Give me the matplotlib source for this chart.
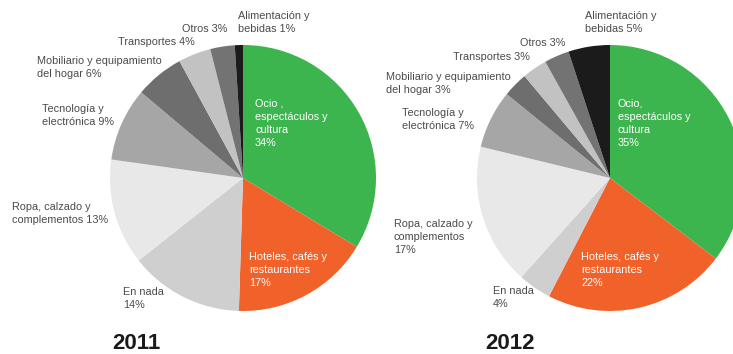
import matplotlib.pyplot as plt

# datos
categorias = ['Ocio, espectáculos y cultura', 'Hoteles, cafés y restaurantes', 'En nada',
              'Ropa, calzado y complementos', 'Tecnología y electrónica',
              'Mobiliario y equipamiento del hogar', 'Transportes', 'Otros',
              'Alimentación y bebidas']
valores_2011 = [34, 17, 14, 13, 9, 6, 4, 3, 1]
valores_2012 = [35, 22, 4, 17, 7, 3, 3, 3, 5]
colores = ['#3db54f', '#f0622a', '#cfcfcf', '#e8e8e8', '#a6a6a6',
           '#6e6e6e', '#c2c2c2', '#737373', '#1b1b1b']

plt.rcParams['font.family'] = ['Liberation Sans', 'DejaVu Sans']

W, H = 733, 354
fig = plt.figure(figsize=(W / 100, H / 100), dpi=100)
ax = fig.add_axes([0, 0, 1, 1])


def pie(vals, cx, cy, r):
    ax.pie(vals, colors=colores, startangle=90, counterclock=False,
           center=(cx, H - cy), radius=r, frame=True,
           wedgeprops=dict(linewidth=0))


def txt(x, y, s, color='#4a4a4a', ha='left', size=7.8, weight='normal', va='top'):
    ax.text(x, H - y, s, color=color, ha=ha, va=va, fontsize=size,
            fontweight=weight, linespacing=1.38)


pie(valores_2011, 243, 178, 133)
pie(valores_2012, 610, 178, 133)
ax.set_xlim(0, W)
ax.set_ylim(0, H)
ax.set_aspect('equal')
ax.axis('off')

# etiquetas 2011
txt(238, 11, 'Alimentación y\nbebidas 1%')
txt(227, 24, 'Otros 3%', ha='right')
txt(118, 37, 'Transportes 4%')
txt(37, 56, 'Mobiliario y equipamiento\ndel hogar 6%')
txt(42, 104, 'Tecnología y\nelectrónica 9%')
txt(255, 99, 'Ocio ,\nespectáculos y\ncultura\n34%', color='white')
txt(12, 202, 'Ropa, calzado y\ncomplementos 13%')
txt(249, 252, 'Hoteles, cafés y\nrestaurantes\n17%', color='white')
txt(123, 287, 'En nada\n14%')
txt(112, 349, '2011', color='#1a1a1a', size=16, weight='bold', va='baseline')

# etiquetas 2012
txt(585, 11, 'Alimentación y\nbebidas 5%')
txt(565, 38, 'Otros 3%', ha='right')
txt(453, 52, 'Transportes 3%')
txt(386, 72, 'Mobiliario y equipamiento\ndel hogar 3%')
txt(402, 108, 'Tecnología y\nelectrónica 7%')
txt(618, 99, 'Ocio,\nespectáculos y\ncultura\n35%', color='white')
txt(394, 219, 'Ropa, calzado y\ncomplementos\n17%')
txt(581, 252, 'Hoteles, cafés y\nrestaurantes\n22%', color='white')
txt(493, 286, 'En nada\n4%')
txt(485, 349, '2012', color='#1a1a1a', size=16, weight='bold', va='baseline')

fig.savefig('out.png', dpi=100)
